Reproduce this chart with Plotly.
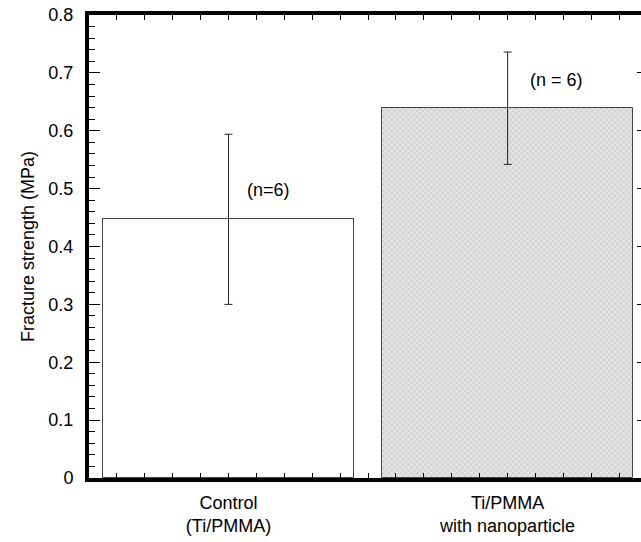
import plotly.graph_objects as go

# ---- data ----
categories = ["Control<br>(Ti/PMMA)", "Ti/PMMA<br>with nanoparticle"]
positions = [0, 1]
strength = [0.447, 0.639]
strength_err = [0.147, 0.097]
n_labels = ["(n=6)", "(n = 6)"]
n_label_x = [0.142, 1.175]
n_label_y = [0.497, 0.688]
y_tick_vals = [0, 0.1, 0.2, 0.3, 0.4, 0.5, 0.6, 0.7, 0.8]
y_tick_text = ["0", "0.1", "0.2", "0.3", "0.4", "0.5", "0.6", "0.7", "0.8"]

FONT = "Liberation Sans, Arial, Helvetica, sans-serif"
FS = 18
XR = [-0.5, 1.478]
YR = [0, 0.8]

fig = go.Figure()

# control bar (white) on the main axes
fig.add_trace(go.Bar(
    x=[positions[0]], y=[strength[0]], width=0.9,
    marker=dict(color="white", line=dict(color="#444444", width=1)),
    error_y=dict(type="data", array=[strength_err[0]], color="#222222", thickness=1, width=4),
    showlegend=False, hoverinfo="skip", xaxis="x", yaxis="y",
))
# nanoparticle bar (gray textured) on the overlaid axes
fig.add_trace(go.Bar(
    x=[positions[1]], y=[strength[1]], width=0.9,
    marker=dict(color="#e4e4e4", line=dict(color="#444444", width=1),
                pattern=dict(shape="x", size=4, solidity=0.3,
                             fgcolor="#a0a0a0", bgcolor="#e4e4e4")),
    error_y=dict(type="data", array=[strength_err[1]], color="#222222", thickness=1, width=4),
    showlegend=False, hoverinfo="skip", xaxis="x2", yaxis="y2",
))

for txt, xx, yy in zip(n_labels, n_label_x, n_label_y):
    fig.add_annotation(x=xx, y=yy, xref="x", yref="y", text=txt, showarrow=False,
                       font=dict(family=FONT, size=FS, color="black"))

fig.update_layout(
    width=641, height=542,
    margin=dict(l=89, r=0, t=15, b=64),
    paper_bgcolor="white", plot_bgcolor="white",
    font=dict(family=FONT, size=FS, color="black"),
    bargap=0,
    xaxis=dict(
        range=XR, showgrid=False, zeroline=False,
        showline=True, linecolor="black", linewidth=4, mirror="allticks",
        tickmode="array", tickvals=[0.5], ticktext=[""],
        ticks="inside", ticklen=10, tickwidth=1, tickcolor="black",
        minor=dict(tickmode="linear", tick0=0, dtick=0.1, ticks="inside",
                   ticklen=5, tickwidth=1, tickcolor="black"),
        showticklabels=False,
    ),
    xaxis2=dict(
        range=XR, overlaying="x", anchor="y2", side="bottom",
        showgrid=False, zeroline=False, showline=False,
        tickmode="array", tickvals=positions, ticktext=categories,
        ticks="", tickfont=dict(family=FONT, size=FS, color="black"),
        ticklabelstandoff=12,
    ),
    yaxis=dict(
        range=YR, showgrid=False, zeroline=False,
        showline=True, linecolor="black", linewidth=4,
        tickmode="array", tickvals=y_tick_vals, ticktext=y_tick_text,
        ticks="inside", ticklen=11, tickwidth=1, tickcolor="black",
        minor=dict(tickmode="linear", tick0=0, dtick=0.02, ticks="inside",
                   ticklen=6, tickwidth=1, tickcolor="black"),
        tickfont=dict(family=FONT, size=FS, color="black"),
        ticklabelstandoff=8,
        title=dict(text="Fracture strength (MPa)", font=dict(family=FONT, size=FS, color="black"),
                   standoff=10),
    ),
    yaxis2=dict(
        range=YR, overlaying="y", anchor="x2", side="right",
        showgrid=False, zeroline=False, showline=False,
        tickmode="array", tickvals=y_tick_vals, ticks="inside", ticklen=4,
        tickwidth=1, tickcolor="black", showticklabels=False,
    ),
)

fig.write_html("out.html")
